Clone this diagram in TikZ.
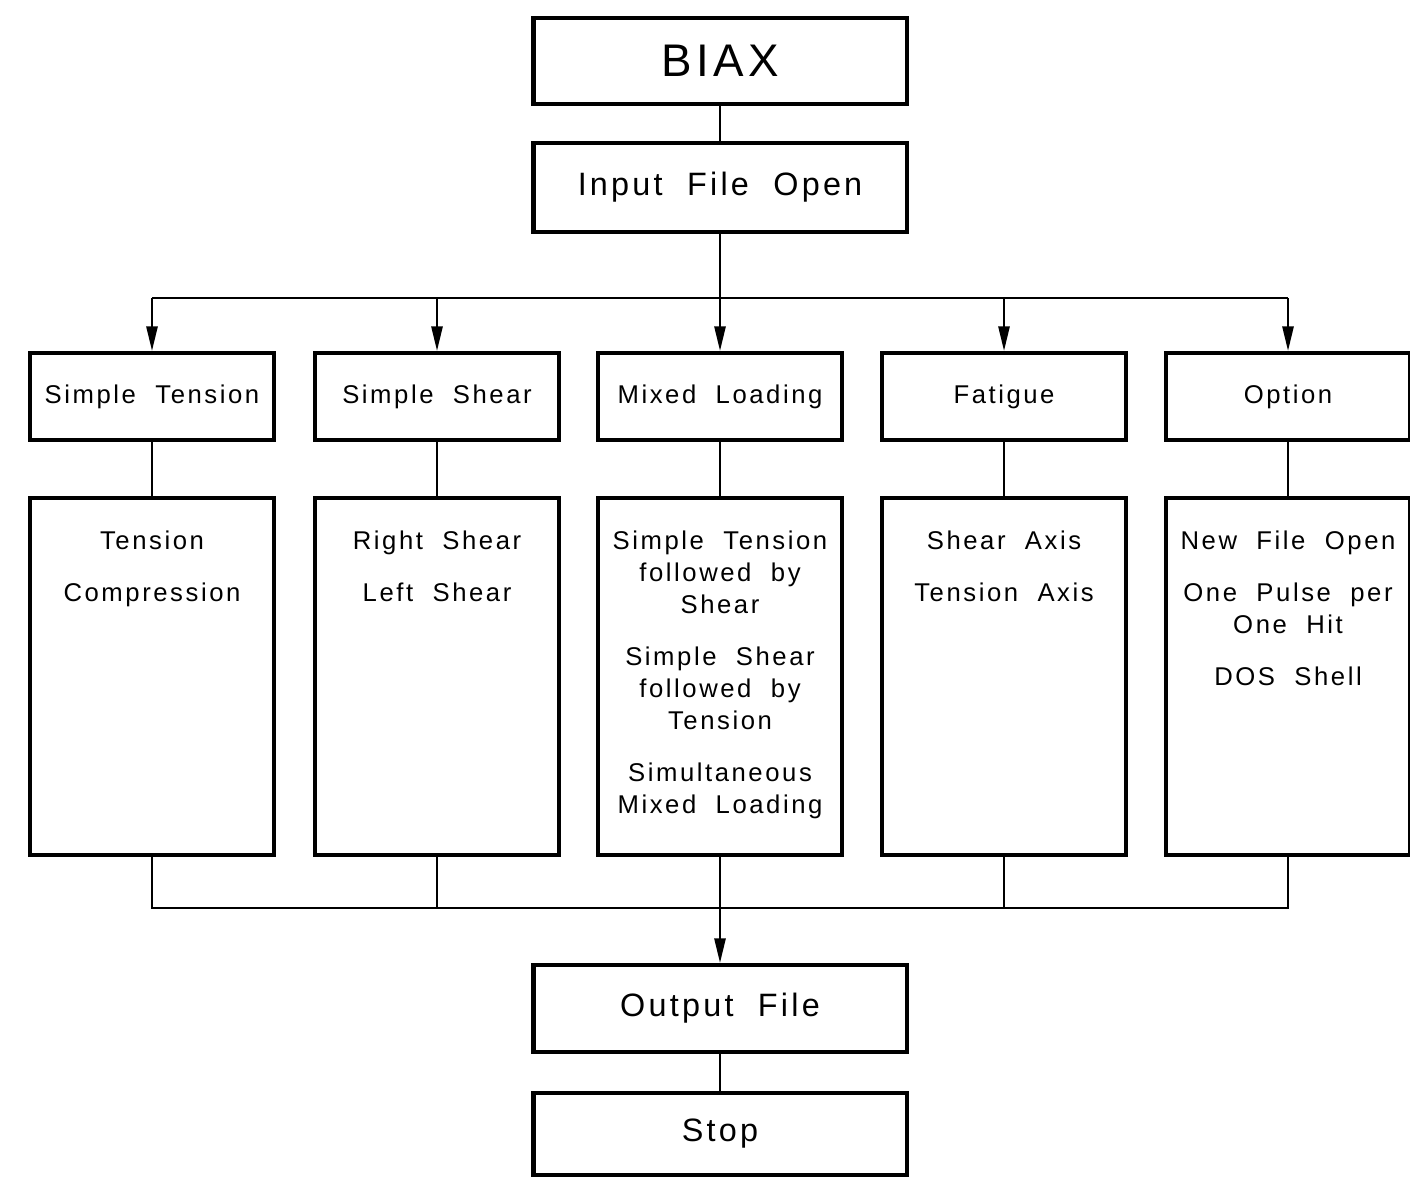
\documentclass[tikz,border=0pt]{standalone}
\usepackage{fontspec}
\setmainfont{Liberation Sans}[LetterSpace=10, WordSpace=2]
\usetikzlibrary{arrows.meta, positioning}

\begin{document}
\begin{tikzpicture}[
	x=0.01cm, y=-0.01cm,
	box/.style={draw, line width=1.2pt, align=center, minimum height=0.87cm, inner sep=0pt},
	mainbox/.style={box, minimum width=3.73cm, font=\fontsize{9.2}{11}\selectfont},
	headbox/.style={box, minimum width=2.44cm, font=\fontsize{7.3}{9}\selectfont},
	listbox/.style={box, minimum width=2.44cm, minimum height=3.57cm},
	listtext/.style={anchor=north, align=center, inner sep=0pt, yshift=-0.34cm, font=\fontsize{7.3}{9.1}\selectfont},
	line/.style={line width=0.6pt},
	arrow/.style={line, -{Triangle[length=7pt, width=3.2pt]}}
]
\useasboundingbox (0,0) rectangle (1410,1176);

\node[mainbox, minimum height=0.86cm, font=\fontsize{13}{15}\selectfont] (biax) at (720,61) {BIAX};
\node[mainbox, minimum height=0.89cm] (input) at (720,187.5) {Input File Open};
\coordinate (busTop) at (720,298);

\node[headbox] (tension) at (152,396.5) {Simple Tension};
\node[headbox] (shear) at (437,396.5) {Simple Shear};
\node[headbox] (mixed) at (720,396.5) {Mixed Loading};
\node[headbox] (fatigue) at (1004,396.5) {Fatigue};
\node[headbox] (option) at (1288,396.5) {Option};

\node[listbox] (tensionList) at (152,676.5) {};
\node[listbox] (shearList) at (437,676.5) {};
\node[listbox] (mixedList) at (720,676.5) {};
\node[listbox] (fatigueList) at (1004,676.5) {};
\node[listbox] (optionList) at (1288,676.5) {};

\node[listtext] (tensionText) at (tensionList.north) {Tension\\[5.7pt]Compression};
\node[listtext] (shearText) at (shearList.north) {Right Shear\\[5.7pt]Left Shear};
\node[listtext] (mixedText) at (mixedList.north) {Simple Tension\\followed by\\Shear\\[5.7pt]Simple Shear\\followed by\\Tension\\[5.7pt]Simultaneous\\Mixed Loading};
\node[listtext] (fatigueText) at (fatigueList.north) {Shear Axis\\[5.7pt]Tension Axis};
\node[listtext] (optionText) at (optionList.north) {New File Open\\[5.7pt]One Pulse per\\One Hit\\[5.7pt]DOS Shell};

\coordinate (busBottom) at (720,908);
\node[mainbox] (output) at (720,1008.5) {Output File};
\node[mainbox, minimum height=0.82cm] (stop) at (720,1134) {Stop};

\draw[line] (biax) -- (input);
\draw[arrow] (input) -- (mixed);
\draw[line] (tension.north |- busTop) -- (option.north |- busTop);
\draw[arrow] (tension.north |- busTop) -- (tension);
\draw[arrow] (shear.north |- busTop) -- (shear);
\draw[arrow] (fatigue.north |- busTop) -- (fatigue);
\draw[arrow] (option.north |- busTop) -- (option);

\draw[line] (tension) -- (tensionList);
\draw[line] (shear) -- (shearList);
\draw[line] (mixed) -- (mixedList);
\draw[line] (fatigue) -- (fatigueList);
\draw[line] (option) -- (optionList);

\draw[line] (tensionList.south) |- (busBottom) -| (optionList.south);
\draw[line] (shearList.south) -- (shearList.south |- busBottom);
\draw[line] (fatigueList.south) -- (fatigueList.south |- busBottom);
\draw[arrow] (mixedList) -- (output);
\draw[line] (output) -- (stop);
\end{tikzpicture}
\end{document}
